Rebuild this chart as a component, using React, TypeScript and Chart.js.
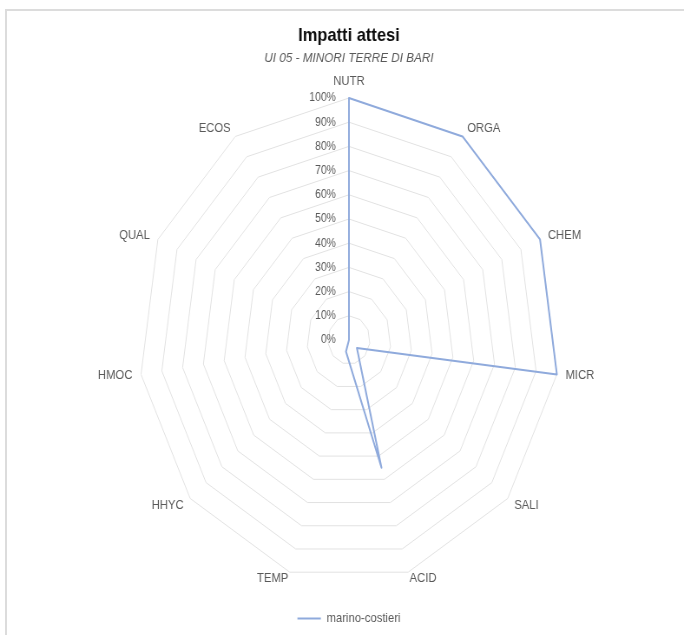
import React, { useEffect, useRef } from "react";
import { Chart, registerables } from "chart.js";

Chart.register(...registerables);

// ---- data ----
const categories = ["NUTR", "ORGA", "CHEM", "MICR", "SALI", "ACID", "TEMP", "HHYC", "HMOC", "QUAL", "ECOS"];
const marinoCostieri = [1, 1, 1, 1, 0.05, 0.55, 0.05, 0, 0, 0, 0];
const seriesName = "marino-costieri";
const tickValues = [0, 0.1, 0.2, 0.3, 0.4, 0.5, 0.6, 0.7, 0.8, 0.9, 1];
const tickLabels = ["0%", "10%", "20%", "30%", "40%", "50%", "60%", "70%", "80%", "90%", "100%"];
const titleText = "Impatti attesi";
const subtitleText = "UI 05 - MINORI TERRE DI BARI";

// ---- layout / style ----
const SX = 0.868; // horizontal squeeze of the original picture
const CW = 804;
const CH = 635;
const FONT = "'Liberation Sans', Arial, sans-serif";
const TEXT = "#595959";
const LINE = "#8FAADC";

const radarText = {
  id: "radarText",
  afterDatasetsDraw(chart: any) {
    const scale = chart.scales.r;
    const ctx = chart.ctx;
    ctx.save();
    ctx.fillStyle = TEXT;
    // tick labels, left of the vertical axis
    ctx.font = `12px ${FONT}`;
    ctx.textAlign = "right";
    ctx.textBaseline = "middle";
    tickValues.forEach((v, i) => {
      const d = scale.getDistanceFromCenterForValue(v);
      ctx.fillText(tickLabels[i], scale.xCenter - 15, scale.yCenter - d);
    });
    // category labels
    ctx.font = `13px ${FONT}`;
    categories.forEach((c, i) => {
      const idxAngle = scale.getIndexAngle(i);
      const co0 = Math.cos(idxAngle);
      const gap = co0 < -0.9 ? 6 : 10;
      const p = scale.getPointPosition(i, scale.drawingArea + gap);
      const th = p.angle + Math.PI / 2;
      const s = Math.sin(th);
      const co = Math.cos(th);
      ctx.textAlign = Math.abs(s) < 0.05 ? "center" : s > 0 ? "left" : "right";
      ctx.textBaseline = co > 0.95 ? "bottom" : "middle";
      ctx.fillText(c, p.x, p.y);
    });
    ctx.restore();
  },
};

export default function App() {
  const ref = useRef<HTMLCanvasElement | null>(null);

  useEffect(() => {
    if (!ref.current) return;
    const chart = new Chart(ref.current, {
      type: "radar",
      data: {
        labels: categories,
        datasets: [
          {
            label: seriesName,
            data: marinoCostieri,
            borderColor: LINE,
            backgroundColor: LINE,
            borderWidth: 2,
            fill: false,
            pointRadius: 0,
            pointHoverRadius: 0,
            borderJoinStyle: "round",
            tension: 0,
            pointStyle: "line",
          },
        ],
      },
      options: {
        responsive: false,
        animation: false,
        devicePixelRatio: 1,
        layout: { padding: 0 },
        scales: {
          r: {
            min: 0,
            max: 1,
            beginAtZero: true,
            ticks: { stepSize: 0.1, display: false },
            grid: { color: "#e2e2e2", lineWidth: 1, circular: false },
            angleLines: { display: false },
            pointLabels: { display: false },
          },
        },
        plugins: {
          title: {
            display: true,
            text: titleText,
            color: "#0d0d0d",
            font: { family: FONT, size: 19, weight: "bold" },
            padding: { top: 24, bottom: 0 },
          },
          subtitle: {
            display: true,
            text: subtitleText,
            color: TEXT,
            font: { family: FONT, size: 13.5, style: "italic" },
            padding: { top: 3, bottom: 32.05 },
          },
          legend: {
            display: true,
            position: "bottom",
            labels: {
              usePointStyle: true,
              pointStyle: "line",
              pointStyleWidth: 27,
              padding: 29.9,
              color: TEXT,
              font: { family: FONT, size: 13 },
            },
          },
          tooltip: { enabled: false },
        },
      },
      plugins: [radarText],
    } as any);
    return () => chart.destroy();
  }, []);

  return (
    <div
      style={{
        position: "fixed",
        left: 0,
        top: 0,
        width: 684,
        height: 635,
        overflow: "hidden",
        background: "#ffffff",
      }}
    >
      <div
        style={{
          position: "absolute",
          left: 5,
          top: 9,
          width: 800,
          height: 800,
          borderTop: "2px solid #dcdcdc",
          borderLeft: "2px solid #dcdcdc",
          boxSizing: "border-box",
        }}
      />
      <div
        style={{
          position: "absolute",
          left: 0,
          top: 0,
          width: CW,
          height: CH,
          transform: `scaleX(${SX})`,
          transformOrigin: "0 0",
        }}
      >
        <canvas ref={ref} width={CW} height={CH} style={{ width: CW, height: CH, display: "block" }} />
      </div>
    </div>
  );
}
